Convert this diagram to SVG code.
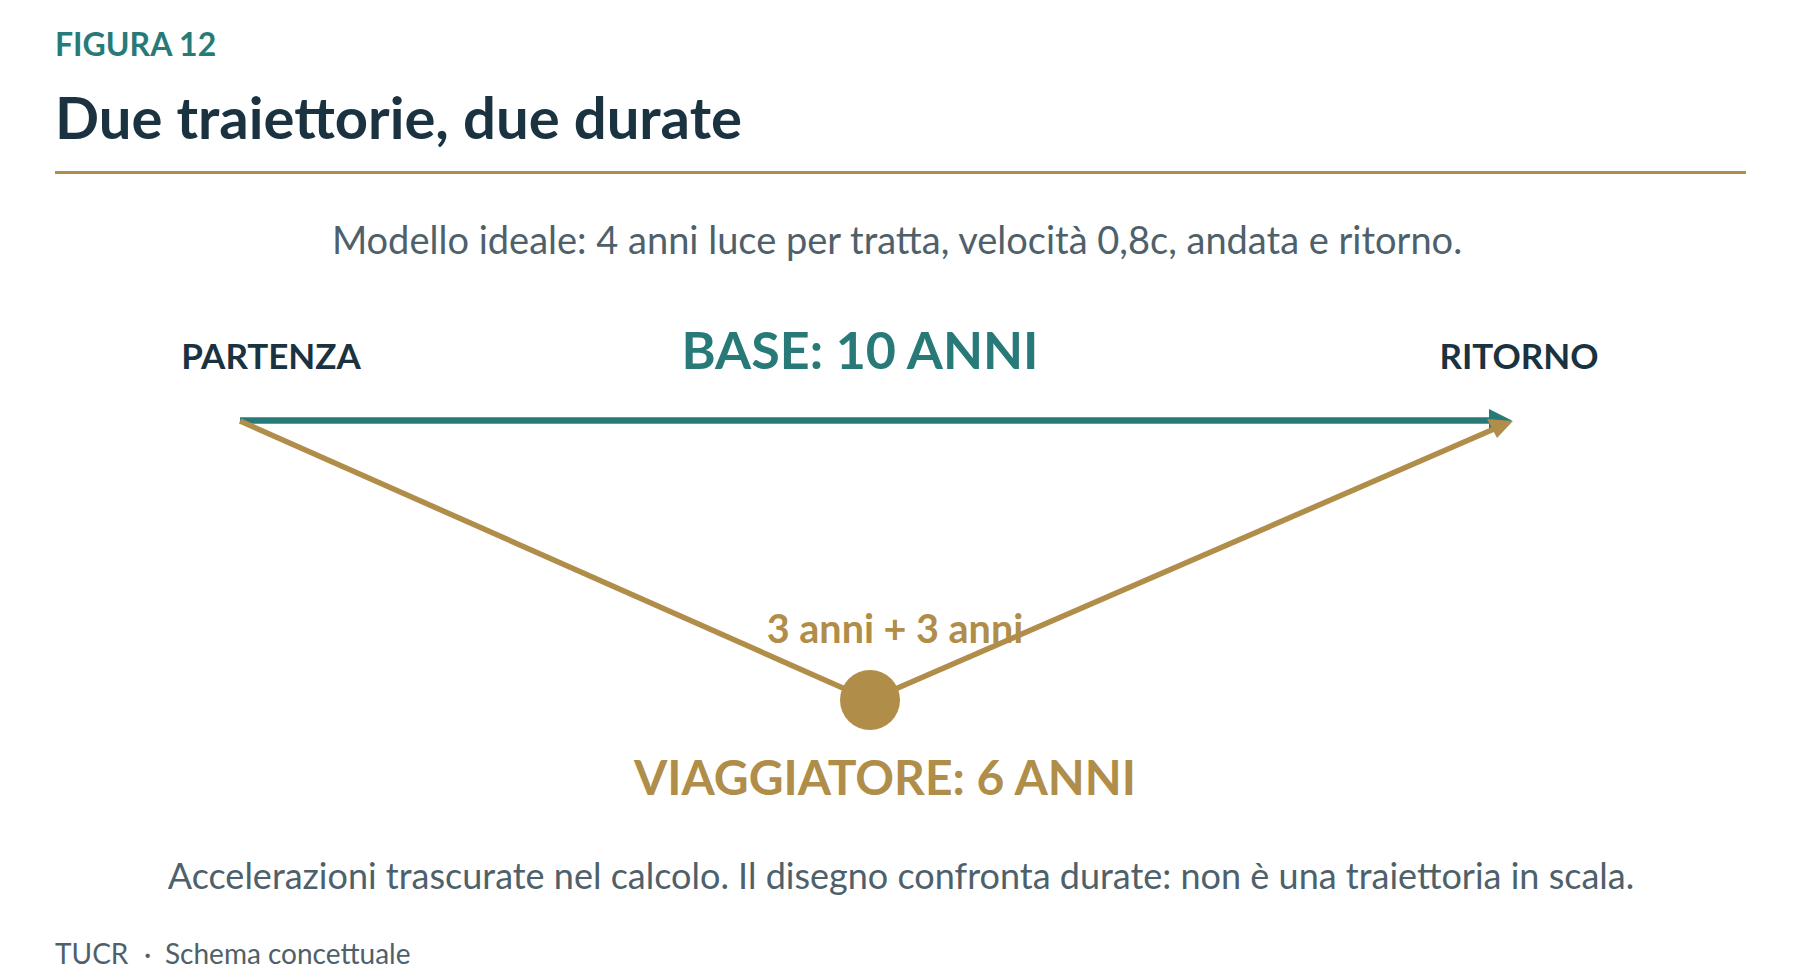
<svg xmlns="http://www.w3.org/2000/svg" width="1800" height="980" viewBox="0 0 1800 980">
<style>
text{font-family:Lato,"Liberation Sans",sans-serif}
.kicker{font-size:32px;font-weight:700;fill:#287A78}
.title{font-size:58px;font-weight:700;fill:#1B3240}
.sub{font-size:38px;fill:#4E616B}
.note{font-size:36px;fill:#4E616B}
.place{font-size:35px;font-weight:700;fill:#1B3240}
.base{font-size:52px;font-weight:700;fill:#287A78}
.trav{font-size:48px;font-weight:700;fill:#B08D48}
.small{font-size:39.5px;font-weight:700;fill:#B08D48}
.foot{font-size:28px;fill:#4E616B}
</style>
<rect width="1800" height="980" fill="#FFFFFF"/>
<text class="kicker" x="55" y="56">FIGURA 12</text>
<text class="title" x="55" y="139">Due traiettorie, due durate</text>
<rect x="55" y="171" width="1691" height="3" fill="#B08D48"/>
<text class="sub" x="897" y="254" text-anchor="middle">Modello ideale: 4 anni luce per tratta, velocità 0,8c, andata e ritorno.</text>
<g id="connectors">
<line x1="240" y1="420.5" x2="1489" y2="420.5" stroke="#287A78" stroke-width="6.5"/>
<path d="M1489,409 L1512,420.5 L1489,432 Z" fill="#287A78"/>
<polyline points="240,421 870,700 1494,429" fill="none" stroke="#B08D48" stroke-width="5.5"/>
<path d="M1487,419 L1513,421 L1497,438 Z" fill="#B08D48"/>
</g>
<g id="partenza"><text class="place" x="271" y="369" text-anchor="middle">PARTENZA</text></g>
<g id="ritorno"><text class="place" x="1519" y="369" text-anchor="middle">RITORNO</text></g>
<g id="base"><text class="base" x="860" y="369" text-anchor="middle">BASE: 10 ANNI</text></g>
<g id="viaggiatore">
<circle cx="870" cy="700" r="30" fill="#B08D48"/>
<text class="small" x="895" y="643" text-anchor="middle">3 anni + 3 anni</text>
<text class="trav" x="885" y="795" text-anchor="middle">VIAGGIATORE: 6 ANNI</text>
</g>
<text class="note" x="901" y="889" text-anchor="middle">Accelerazioni trascurate nel calcolo. Il disegno confronta durate: non è una traiettoria in scala.</text>
<text class="foot" x="55" y="964">TUCR<tspan x="144">·</tspan><tspan x="165">Schema concettuale</tspan></text>
</svg>
